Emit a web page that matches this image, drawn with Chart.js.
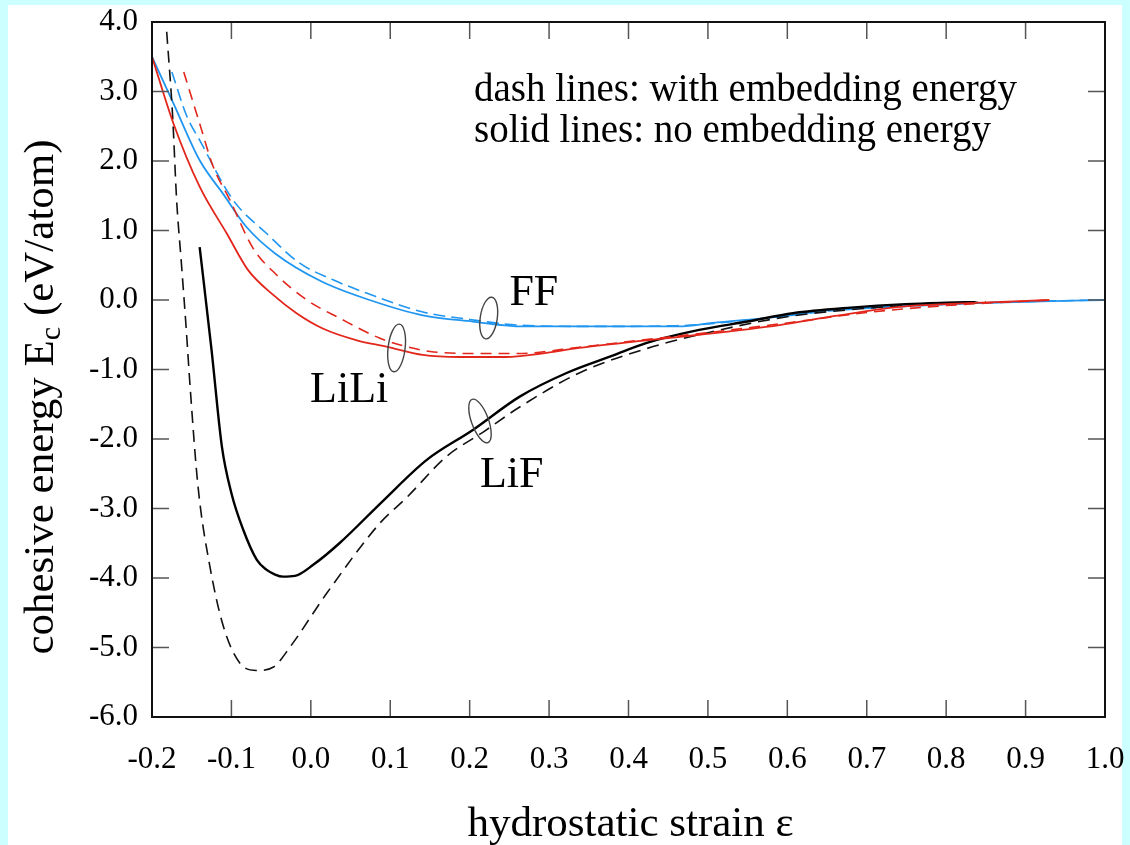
<!DOCTYPE html>
<html>
<head>
<meta charset="utf-8">
<script src="https://cdn.jsdelivr.net/npm/chart.js@4.4.1/dist/chart.umd.min.js"></script>
<style>
  html, body { margin: 0; padding: 0; background: #ccffff; }
  #wrap { position: relative; width: 1130px; height: 845px; }
</style>
</head>
<body>
<div id="wrap"><canvas id="chart" width="1130" height="845"></canvas></div>
<script>
// values (strain, eV/atom)
const lifSolidX = [-0.140, -0.125, -0.112, -0.100, -0.085, -0.068, -0.056, -0.045, -0.035, -0.020, 0.003, 0.036, 0.090, 0.146, 0.204, 0.263, 0.322, 0.380, 0.422, 0.489, 0.550, 0.607, 0.680, 0.749, 0.800, 0.837];
const lifSolidY = [0.76, -0.72, -2.11, -2.78, -3.31, -3.74, -3.88, -3.95, -3.98, -3.97, -3.81, -3.50, -2.90, -2.30, -1.87, -1.39, -1.05, -0.80, -0.62, -0.43, -0.31, -0.19, -0.11, -0.06, -0.04, -0.03];

const lifDashX = [-0.1815, -0.174, -0.169, -0.163, -0.157, -0.152, -0.142, -0.127, -0.110, -0.089, -0.068, -0.047, -0.026, 0.020, 0.087, 0.120, 0.171, 0.217, 0.263, 0.338, 0.431, 0.500, 0.600, 0.700, 0.780, 0.850];
const lifDashY = [3.86, 2.64, 1.44, 0.53, -0.40, -1.25, -2.69, -3.84, -4.70, -5.23, -5.33, -5.28, -4.99, -4.22, -3.21, -2.85, -2.25, -1.90, -1.54, -1.05, -0.67, -0.47, -0.24, -0.12, -0.06, -0.03];

const liliSolidX = [-0.200, -0.173, -0.140, -0.106, -0.079, -0.047, -0.018, 0.015, 0.058, 0.095, 0.141, 0.187, 0.246, 0.290, 0.338, 0.422, 0.489, 0.590, 0.660, 0.741, 0.820, 0.930];
const liliSolidY = [3.50, 2.54, 1.63, 0.96, 0.43, 0.07, -0.19, -0.41, -0.58, -0.67, -0.79, -0.82, -0.82, -0.77, -0.69, -0.58, -0.50, -0.36, -0.23, -0.10, -0.05, 0.00];

const liliDashX = [-0.160, -0.140, -0.123, -0.102, -0.073, -0.043, -0.005, 0.036, 0.087, 0.120, 0.150, 0.204, 0.260, 0.338, 0.422, 0.500, 0.600, 0.700, 0.800, 0.930];
const liliDashY = [3.28, 2.54, 1.92, 1.44, 0.75, 0.36, 0.00, -0.26, -0.55, -0.67, -0.74, -0.77, -0.77, -0.68, -0.57, -0.47, -0.33, -0.18, -0.08, 0.00];

const ffSolidX = [-0.200, -0.173, -0.140, -0.110, -0.081, -0.045, 0.013, 0.074, 0.141, 0.204, 0.267, 0.350, 0.464, 0.506, 0.590, 0.657, 0.740, 0.825, 0.920, 1.000];
const ffSolidY = [3.50, 2.83, 2.01, 1.52, 1.05, 0.67, 0.27, 0.00, -0.22, -0.31, -0.38, -0.38, -0.38, -0.33, -0.24, -0.14, -0.09, -0.05, -0.02, 0.00];

const ffDashX = [-0.175, -0.156, -0.140, -0.098, -0.056, -0.014, 0.028, 0.070, 0.140, 0.200, 0.260, 0.350, 0.460, 0.550, 0.650, 0.750, 0.850, 0.950, 1.000];
const ffDashY = [3.28, 2.64, 2.30, 1.44, 0.96, 0.53, 0.29, 0.10, -0.17, -0.28, -0.36, -0.38, -0.37, -0.29, -0.16, -0.09, -0.04, -0.01, 0.00];

// curve labels and their little loop markers
const curveNames = ['FF', 'LiLi', 'LiF'];
const nameX = [0.250, -0.001, 0.213];
const nameY = [-0.07, -1.47, -2.69];
const loopX = [0.224, 0.108, 0.213];
const loopY = [-0.26, -0.69, -1.74];

const noteLines = ['dash lines: with embedding energy', 'solid lines: no embedding energy'];

const RED = '#e3261b';
const BLUE = '#2196f0';
const SERIF = '"Liberation Serif", "Times New Roman", serif';

function pts(xs, ys) {
    return xs.map((x, i) => ({ x: x, y: ys[i] }));
}

function line(data, color, width, dash) {
    return {
        data: data,
        borderColor: color,
        borderWidth: width,
        borderDash: dash,
        pointRadius: 0,
        showLine: true,
        fill: false,
        cubicInterpolationMode: 'monotone'
    };
}

const fmt = v => (Math.abs(v) < 1e-9 ? 0 : v).toFixed(1);

// keep tick labels from pushing the plot box around
function noPad(s) {
    s.paddingTop = s.paddingBottom = s.paddingLeft = s.paddingRight = 0;
}

const decor = {
    id: 'decor',
    beforeDraw(chart) {
        const ctx = chart.ctx;
        ctx.save();
        ctx.fillStyle = '#ccffff';
        ctx.fillRect(0, 0, chart.width, chart.height);
        ctx.fillStyle = '#fff';
        ctx.fillRect(8, 5, 1114, 840);
        ctx.restore();
    },
    afterDraw(chart) {
        const ctx = chart.ctx;
        const a = chart.chartArea;
        const xs = chart.scales.x, ys = chart.scales.y;
        ctx.save();

        // inward ticks on all four sides
        ctx.strokeStyle = '#555';
        ctx.lineWidth = 1.5;
        ctx.beginPath();
        xs.ticks.forEach(t => {
            const px = xs.getPixelForValue(t.value);
            ctx.moveTo(px, a.bottom); ctx.lineTo(px, a.bottom - 17);
            ctx.moveTo(px, a.top); ctx.lineTo(px, a.top + 17);
        });
        ys.ticks.forEach(t => {
            const py = ys.getPixelForValue(t.value);
            ctx.moveTo(a.left, py); ctx.lineTo(a.left + 17, py);
            ctx.moveTo(a.right, py); ctx.lineTo(a.right - 17, py);
        });
        ctx.stroke();

        // frame
        ctx.strokeStyle = '#111';
        ctx.lineWidth = 2;
        ctx.strokeRect(a.left, a.top, a.right - a.left, a.bottom - a.top);

        // loops
        ctx.strokeStyle = '#444';
        ctx.lineWidth = 1.4;
        const tilt = [0.15, 0.12, -0.35];
        const ry = [21, 24, 23];
        loopX.forEach((lx, i) => {
            ctx.beginPath();
            ctx.ellipse(xs.getPixelForValue(lx), ys.getPixelForValue(loopY[i]), 8.5, ry[i], tilt[i], 0, Math.PI * 2);
            ctx.stroke();
        });

        ctx.fillStyle = '#000';
        ctx.textAlign = 'left';
        ctx.textBaseline = 'alphabetic';

        // curve names
        ctx.font = '44px ' + SERIF;
        curveNames.forEach((n, i) => {
            ctx.fillText(n, xs.getPixelForValue(nameX[i]), ys.getPixelForValue(nameY[i]));
        });

        // note text
        ctx.font = '39px ' + SERIF;
        ctx.fillText(noteLines[0], 474, 101);
        ctx.fillText(noteLines[1], 474, 142);

        // x title
        ctx.font = '43px ' + SERIF;
        ctx.textAlign = 'center';
        ctx.fillText('hydrostatic strain \u03b5', (a.left + a.right) / 2 + 2, 836);

        // y title with subscript
        ctx.translate(53, 397);
        ctx.rotate(-Math.PI / 2);
        const big = '43px ' + SERIF, small = '30px ' + SERIF;
        const p1 = 'cohesive energy E', p2 = 'c', p3 = ' (eV/atom)';
        ctx.font = big;
        const w1 = ctx.measureText(p1).width, w3 = ctx.measureText(p3).width;
        ctx.font = small;
        const w2 = ctx.measureText(p2).width;
        const x0 = -(w1 + w2 + w3) / 2;
        ctx.textAlign = 'left';
        ctx.font = big;
        ctx.fillText(p1, x0, 0);
        ctx.font = small;
        ctx.fillText(p2, x0 + w1, 7);
        ctx.font = big;
        ctx.fillText(p3, x0 + w1 + w2, 0);
        ctx.restore();
    }
};

new Chart(document.getElementById('chart'), {
    type: 'scatter',
    data: {
        datasets: [
            line(pts(liliSolidX, liliSolidY), RED, 1.8, []),
            line(pts(liliDashX, liliDashY), RED, 1.6, [11, 7]),
            line(pts(lifDashX, lifDashY), '#111', 1.6, [12, 7]),
            line(pts(lifSolidX, lifSolidY), '#000', 2.4, []),
            line(pts(ffDashX, ffDashY), BLUE, 1.6, [12, 6]),
            line(pts(ffSolidX, ffSolidY), BLUE, 1.8, [])
        ]
    },
    options: {
        responsive: false,
        animation: false,
        layout: { padding: { top: 22, right: 25, left: 0, bottom: 0 } },
        plugins: { legend: { display: false }, tooltip: { enabled: false } },
        scales: {
            x: {
                type: 'linear',
                min: -0.2,
                max: 1.0,
                grid: { display: false, drawTicks: false },
                border: { display: false },
                ticks: {
                    stepSize: 0.1,
                    autoSkip: false,
                    maxRotation: 0,
                    padding: 24,
                    color: '#000',
                    font: { family: SERIF, size: 31 },
                    callback: fmt
                },
                afterFit: s => { s.height = 128; noPad(s); }
            },
            y: {
                min: -6,
                max: 4,
                grid: { display: false, drawTicks: false },
                border: { display: false },
                ticks: {
                    stepSize: 1,
                    padding: 14,
                    color: '#000',
                    font: { family: SERIF, size: 31 },
                    callback: fmt
                },
                afterFit: s => { s.width = 152; noPad(s); }
            }
        }
    },
    plugins: [decor]
});
</script>
</body>
</html>
